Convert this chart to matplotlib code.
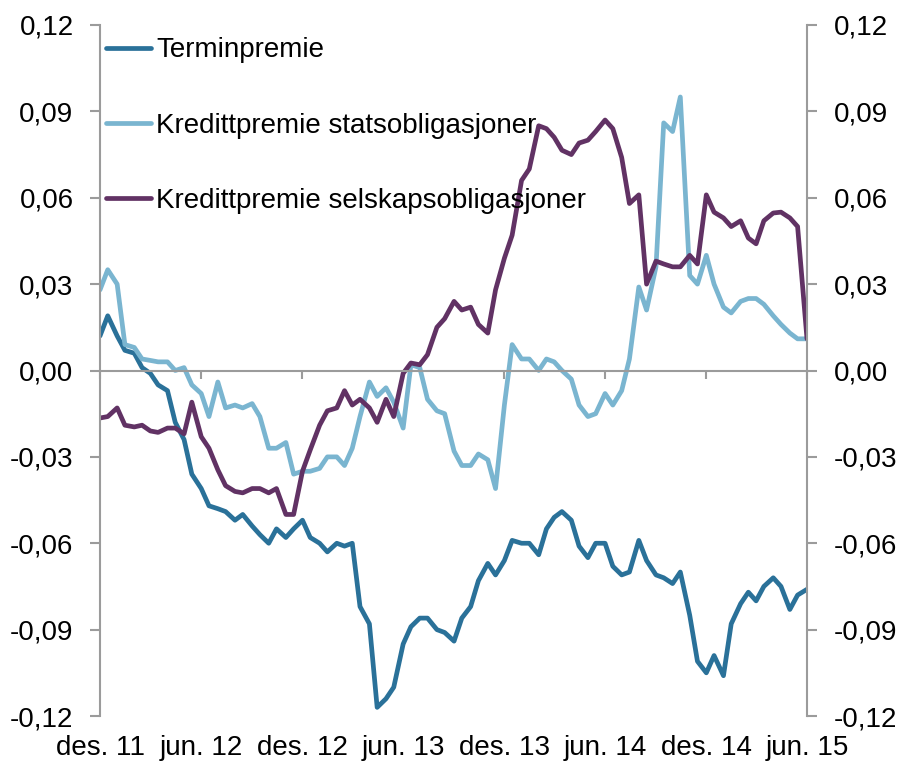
import numpy as np
import pandas as pd
import matplotlib
matplotlib.use("Agg")
import matplotlib.pyplot as plt
import matplotlib.dates as mdates
from matplotlib.ticker import FuncFormatter, FixedLocator

plt.rcParams['font.family'] = ['Liberation Sans', 'DejaVu Sans']

# Semi-monthly observation dates (1st and 15th), Dec 2011 - Jun 2015
dates = pd.date_range('2011-12-01', '2015-06-01', freq='SMS')

terminpremie = [
    0.012, 0.019, 0.012, 0.007, 0.006, 0.001, -0.001, -0.005, -0.007, -0.018,
    -0.024, -0.036, -0.041, -0.047, -0.048, -0.049, -0.052, -0.050, -0.054, -0.057,
    -0.060, -0.055, -0.058, -0.055, -0.052, -0.058, -0.060, -0.063, -0.060, -0.061,
    -0.060, -0.082, -0.088, -0.117, -0.114, -0.110, -0.095, -0.089, -0.086, -0.086,
    -0.090, -0.091, -0.094, -0.086, -0.082, -0.073, -0.067, -0.071, -0.066, -0.059,
    -0.060, -0.060, -0.064, -0.055, -0.051, -0.049, -0.052, -0.061, -0.065, -0.060,
    -0.060, -0.068, -0.071, -0.070, -0.059, -0.066, -0.071, -0.072, -0.074, -0.070,
    -0.085, -0.101, -0.105, -0.099, -0.106, -0.088, -0.081, -0.077, -0.080, -0.075,
    -0.072, -0.075, -0.083, -0.078, -0.076,
]

stats = [
    0.028, 0.035, 0.030, 0.009, 0.008, 0.004, 0.0035, 0.003, 0.003, 0.000,
    0.001, -0.005, -0.008, -0.016, -0.004, -0.013, -0.012, -0.013, -0.0115, -0.016,
    -0.027, -0.027, -0.025, -0.036, -0.035, -0.035, -0.034, -0.030, -0.030, -0.033,
    -0.027, -0.016, -0.004, -0.009, -0.006, -0.011, -0.020, 0.002, 0.001, -0.010,
    -0.014, -0.015, -0.028, -0.033, -0.033, -0.029, -0.031, -0.041, -0.012, 0.009,
    0.004, 0.004, 0.000, 0.004, 0.003, 0.000, -0.003, -0.012, -0.016, -0.015,
    -0.008, -0.012, -0.007, 0.004, 0.029, 0.021, 0.036, 0.086, 0.083, 0.095,
    0.033, 0.030, 0.040, 0.030, 0.022, 0.020, 0.024, 0.025, 0.025, 0.023,
    0.019, 0.016, 0.013, 0.011, 0.011,
]

selskap = [
    -0.0165, -0.016, -0.013, -0.019, -0.0196, -0.019, -0.021, -0.0215, -0.020, -0.020,
    -0.022, -0.011, -0.023, -0.027, -0.0345, -0.040, -0.042, -0.0425, -0.041, -0.041,
    -0.0425, -0.041, -0.050, -0.050, -0.035, -0.0276, -0.019, -0.014, -0.013, -0.007,
    -0.012, -0.010, -0.013, -0.018, -0.010, -0.016, -0.001, 0.0026, 0.002, 0.0055,
    0.015, 0.018, 0.024, 0.021, 0.022, 0.016, 0.013, 0.028, 0.039, 0.047,
    0.066, 0.070, 0.085, 0.084, 0.081, 0.0765, 0.075, 0.079, 0.080, 0.083,
    0.087, 0.084, 0.074, 0.058, 0.061, 0.030, 0.038, 0.037, 0.036, 0.036,
    0.040, 0.037, 0.061, 0.055, 0.053, 0.050, 0.052, 0.046, 0.044, 0.052,
    0.0547, 0.055, 0.053, 0.050, 0.011,
]

labels = ['Terminpremie', 'Kredittpremie statsobligasjoner', 'Kredittpremie selskapsobligasjoner']
colors = ['#2A7199', '#7AB5D0', '#613264']

tick_dates = pd.date_range('2011-12-01', '2015-06-01', freq='6MS')
tick_labels = ['des. 11', 'jun. 12', 'des. 12', 'jun. 13', 'des. 13', 'jun. 14', 'des. 14', 'jun. 15']
yticks = [-0.12, -0.09, -0.06, -0.03, 0.0, 0.03, 0.06, 0.09, 0.12]

fig = plt.figure(figsize=(8.99, 7.65), dpi=100)
ax = fig.add_axes([100/899, 1-716/765, 707/899, 691/765])

for vals, lab, col in zip([terminpremie, stats, selskap], labels, colors):
    ax.plot(dates, vals, color=col, lw=3.4, label=lab, solid_joinstyle='round', solid_capstyle='round')

ax.set_xlim(pd.Timestamp('2011-12-01'), pd.Timestamp('2015-06-01'))
ax.set_ylim(-0.12, 0.12)

gray = '#9B9B9B'
ax.spines['top'].set_visible(False)
for s in ['left', 'right', 'bottom']:
    ax.spines[s].set_color(gray)
    ax.spines[s].set_linewidth(1.5)
ax.spines['bottom'].set_position(('data', 0))

ax.xaxis.set_major_locator(FixedLocator(mdates.date2num(tick_dates)))
ax.tick_params(axis='x', which='both', direction='out', length=6, width=1.5, color=gray,
               labelbottom=False)

sec = ax.secondary_xaxis('bottom')
sec.set_xticks(mdates.date2num(tick_dates))
sec.set_xticklabels(tick_labels)
sec.spines['bottom'].set_visible(False)
sec.tick_params(axis='x', length=0, pad=14, labelsize=20)

ax.set_yticks(yticks)
ax.yaxis.set_major_formatter(FuncFormatter(lambda v, p: f"{np.round(v, 2):.2f}".replace('.', ',').replace('-0,00', '0,00')))
ax.tick_params(axis='y', which='both', direction='out', length=7, width=1.5, color=gray,
               left=True, right=True, labelleft=True, labelright=True, labelsize=20, pad=12)

leg = ax.legend(loc='upper left', bbox_to_anchor=(0.008, 0.982), frameon=False,
                fontsize=20, handlelength=1.65, handletextpad=0.18, labelspacing=1.77,
                borderpad=0, borderaxespad=0)

fig.savefig('out.png', dpi=100)
